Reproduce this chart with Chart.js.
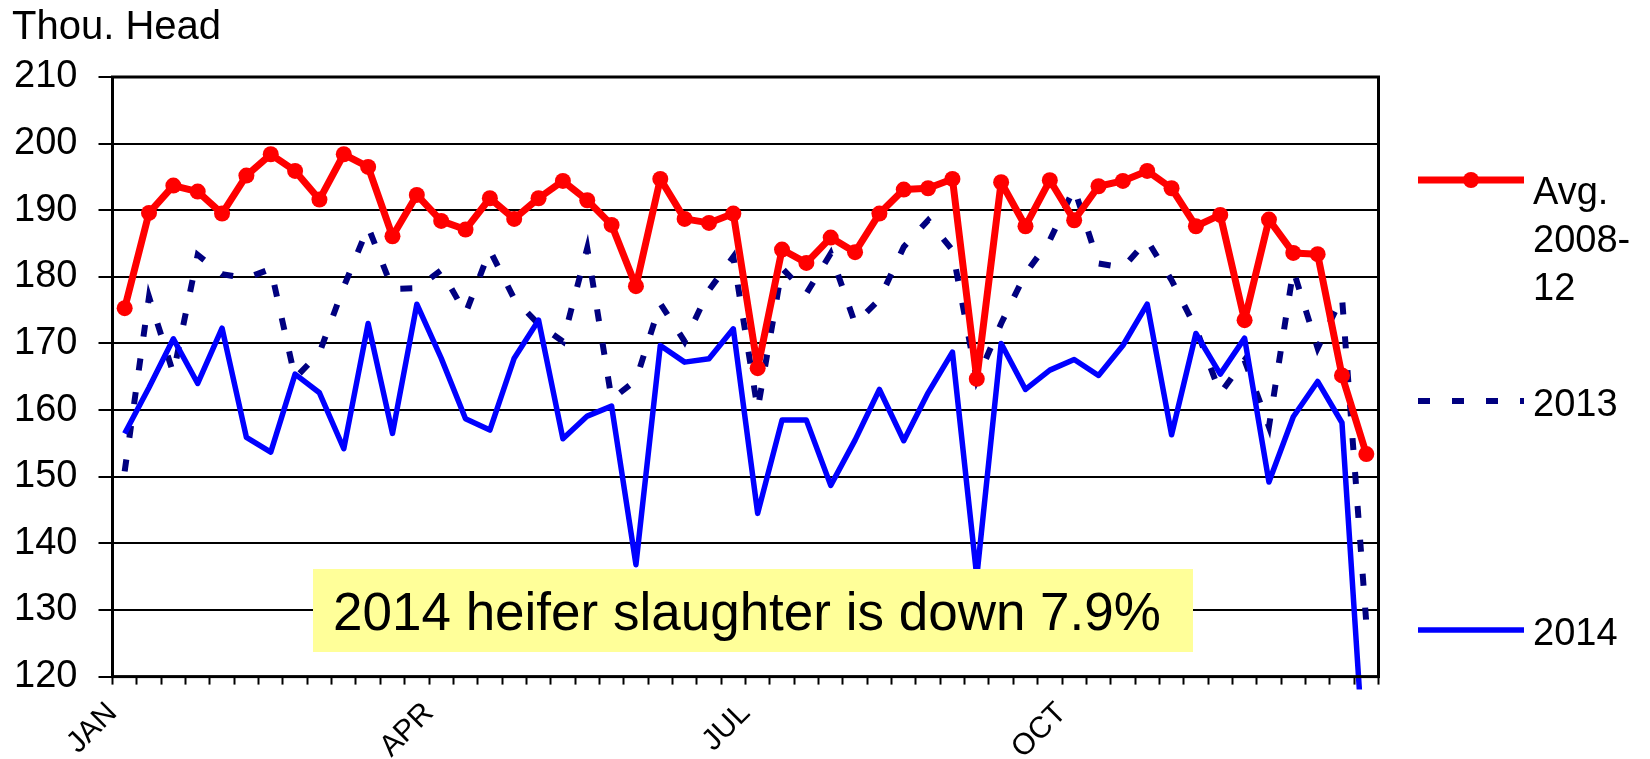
<!DOCTYPE html>
<html>
<head>
<meta charset="utf-8">
<script src="https://cdn.jsdelivr.net/npm/chart.js@4/dist/chart.umd.min.js"></script>
<style>
  html, body { margin: 0; padding: 0; background: #fff; }
  #wrap { position: relative; width: 1650px; height: 759px; font-family: 'Liberation Sans', Arial, sans-serif; color: #000; overflow: hidden; }
  #chart { position: absolute; left: 0; top: 0; }
  .unit { position: absolute; left: 12px; top: 5px; font-size: 40px; line-height: 40px; white-space: nowrap; }
  .note { position: absolute; left: 313px; top: 569px; width: 880px; height: 83px; background: #ffff99;
          font-size: 53px; line-height: 86px; padding-left: 20px; box-sizing: border-box; white-space: nowrap; }
  .key { position: absolute; left: 1418px; width: 230px; height: 0; }
  .key svg { position: absolute; left: 0; top: -10px; }
  .key span { position: absolute; left: 115px; top: -22px; font-size: 38px; line-height: 48px; white-space: nowrap; }
  .key span.multi { top: -13px; }
</style>
</head>
<body>
<div id="wrap">
  <canvas id="chart" width="1650" height="759"></canvas>
  <div class="unit">Thou. Head</div>
  <div class="note">2014 heifer slaughter is down 7.9%</div>
  <div class="key" style="top:180px">
    <svg width="106" height="20"><line x1="0" y1="10" x2="106" y2="10" stroke="#ff0000" stroke-width="7"/><circle cx="53" cy="10" r="8" fill="#ff0000"/></svg>
    <span class="multi">Avg.<br>2008-<br>12</span>
  </div>
  <div class="key" style="top:401px">
    <svg width="106" height="20"><line x1="0" y1="10" x2="106" y2="10" stroke="#000080" stroke-width="6" stroke-dasharray="12 22"/></svg>
    <span>2013</span>
  </div>
  <div class="key" style="top:630px">
    <svg width="106" height="20"><line x1="0" y1="10" x2="106" y2="10" stroke="#0000ff" stroke-width="5.5"/></svg>
    <span>2014</span>
  </div>
</div>
<script>
// weekly heifer slaughter, thousand head
const weeks = [1, 2, 3, 4, 5, 6, 7, 8, 9, 10, 11, 12, 13, 14, 15, 16, 17, 18, 19, 20, 21, 22, 23, 24, 25, 26,
               27, 28, 29, 30, 31, 32, 33, 34, 35, 36, 37, 38, 39, 40, 41, 42, 43, 44, 45, 46, 47, 48, 49, 50, 51, 52];
const monthLabels = ['JAN', 'APR', 'JUL', 'OCT'];
const monthFirstWeek = [1, 14, 27, 40];

const avg2008to12 = [175.3, 189.6, 193.7, 192.8, 189.5, 195.2, 198.4, 195.9, 191.6, 198.4, 196.5, 186.1, 192.3,
                     188.4, 187.1, 191.8, 188.7, 191.8, 194.4, 191.5, 187.8, 178.6, 194.7, 188.7, 188.1, 189.5,
                     166.3, 184.1, 182.1, 185.9, 183.7, 189.5, 193.1, 193.3, 194.7, 164.7, 194.2, 187.6, 194.5,
                     188.5, 193.6, 194.4, 195.9, 193.3, 187.6, 189.3, 173.5, 188.6, 183.6, 183.4, 165.2, 153.4];
const y2013 = [150.8, 177.0, 165.5, 183.3, 180.4, 179.8, 181.2, 164.8, 168.6, 178.5, 187.5, 178.2, 178.3,
               181.0, 174.5, 184.0, 176.7, 172.9, 170.3, 184.3, 161.6, 164.5, 176.0, 170.3, 178.0, 183.0,
               160.1, 181.3, 177.5, 183.5, 173.0, 176.6, 184.5, 188.5, 184.0, 164.5, 173.0, 180.5, 185.5,
               193.3, 182.0, 181.4, 185.5, 179.5, 172.3, 162.5, 167.5, 157.5, 181.0, 169.3, 177.0, 128.0];
const y2014 = [156.5, 163.4, 170.7, 164.0, 172.3, 155.9, 153.7, 165.4, 162.6, 154.2, 173.0, 156.5, 175.9,
               167.8, 158.7, 157.0, 167.8, 173.5, 155.7, 159.1, 160.6, 136.8, 169.7, 167.2, 167.7, 172.2,
               144.5, 158.5, 158.5, 148.7, 155.5, 163.1, 155.4, 162.6, 168.7, 135.0, 170.0, 163.1, 166.0,
               167.6, 165.2, 169.7, 175.9, 156.3, 171.5, 165.4, 170.8, 149.2, 159.0, 164.3, 158.1, 102.0];

const yMin = 120, yMax = 210;

// plot frame plus the short major/minor tick marks on the value axis
const frameAndTicks = {
    id: 'frameAndTicks',
    afterDraw(chart) {
        const { ctx, chartArea: a, scales: { y } } = chart;
        ctx.save();
        ctx.strokeStyle = '#000';
        ctx.lineWidth = 2;
        y.ticks.forEach(t => {
            const py = Math.round(y.getPixelForValue(t.value));
            const len = t.value % 10 === 0 ? 14 : 10;
            ctx.beginPath();
            ctx.moveTo(a.left - len, py);
            ctx.lineTo(a.left, py);
            ctx.stroke();
        });
        ctx.lineWidth = 3;
        ctx.strokeRect(a.left, a.top, a.right - a.left, a.bottom - a.top);
        ctx.restore();
    }
};

new Chart(document.getElementById('chart'), {
    type: 'line',
    data: {
        labels: weeks,
        datasets: [
            {
                label: 'Avg. 2008-12',
                data: avg2008to12,
                borderColor: '#ff0000',
                backgroundColor: '#ff0000',
                borderWidth: 7,
                pointRadius: 8,
                pointBorderWidth: 0,
                borderJoinStyle: 'round',
                tension: 0,
                order: 1
            },
            {
                label: '2014',
                data: y2014,
                borderColor: '#0000ff',
                borderWidth: 5.5,
                pointRadius: 0,
                borderJoinStyle: 'round',
                tension: 0,
                clip: { left: 5, top: 5, right: 5, bottom: 13 },
                order: 2
            },
            {
                label: '2013',
                data: y2013,
                borderColor: '#000080',
                borderWidth: 6,
                borderDash: [12, 22],
                pointRadius: 0,
                tension: 0,
                order: 3
            }
        ]
    },
    options: {
        responsive: false,
        animation: false,
        devicePixelRatio: 1,
        layout: { padding: { left: 0, top: 77, right: 271.5, bottom: 0 } },
        plugins: { legend: { display: false }, tooltip: { enabled: false } },
        scales: {
            x: {
                type: 'category',
                offset: true,
                border: { display: false },
                grid: { offset: true, drawOnChartArea: false, drawTicks: true, tickLength: 8, tickWidth: 2, tickColor: '#000' },
                ticks: {
                    autoSkip: false,
                    minRotation: 45,
                    maxRotation: 45,
                    labelOffset: -12.2,
                    padding: 11,
                    color: '#000',
                    font: { family: "'Liberation Sans', Arial, sans-serif", size: 30 },
                    callback: (v, i) => {
                        const k = monthFirstWeek.indexOf(weeks[i]);
                        return k >= 0 ? monthLabels[k] : '';
                    }
                },
                afterFit: s => { s.height = 82.4; }
            },
            y: {
                min: yMin,
                max: yMax,
                border: { display: false },
                grid: {
                    drawTicks: false,
                    lineWidth: 2,
                    color: c => (c.tick.value % 10 === 0 && c.tick.value > yMin && c.tick.value < yMax) ? '#000' : 'rgba(0,0,0,0)'
                },
                ticks: {
                    stepSize: 5,
                    padding: 35,
                    color: '#000',
                    font: { family: "'Liberation Sans', Arial, sans-serif", size: 38 },
                    callback: v => (v % 10 === 0 ? v : '')
                },
                afterFit: s => { s.width = 112.5; }
            }
        }
    },
    plugins: [frameAndTicks]
});
</script>
</body>
</html>
